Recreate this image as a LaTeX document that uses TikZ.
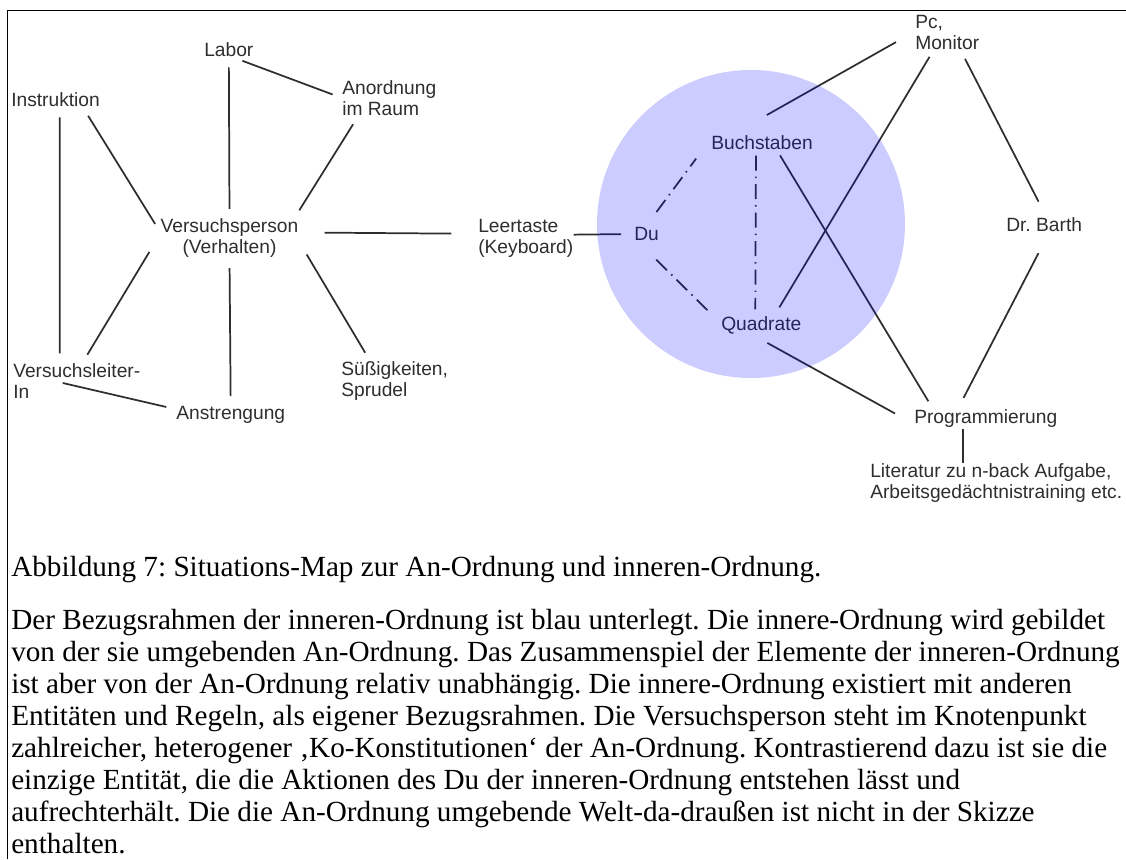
\documentclass[tikz,border=0pt]{standalone}
\usepackage{fontspec}
\setmainfont{Liberation Serif}
\setsansfont{Liberation Sans}
\usepackage{tikz}
\usetikzlibrary{calc}
\frenchspacing
\definecolor{ink}{HTML}{2E2E2E}
\tikzset{
	concept/.style={font=\sffamily\fontsize{14.4}{15.75}\selectfont, text=ink, inner sep=0pt, anchor=west, align=left},
	link/.style={draw=ink, line width=1.3pt, shorten <=7.5pt, shorten >=7.5pt},
	innerlink/.style={link, dash pattern=on 11.25pt off 4.5pt on 1.1pt off 4.5pt},
	bodytext/.style={font=\fontsize{21.9}{24}\selectfont, inner sep=0pt, anchor=base west, align=left}
}

\begin{document}
\begin{tikzpicture}[x=0.75pt, y=-0.75pt]
	\useasboundingbox (0,0) rectangle (1126,859);
	\draw[line width=0.75pt] (7,859) -- (7,11) -- (1126,11);

	\node[concept] (labor) at (204,50) {Labor};
	\node[concept] (anord) at (342,98) {Anordnung\\im Raum};
	\node[concept] (instr) at (11,100) {Instruktion};
	\node[concept, anchor=center, align=center] (vp) at (229.5,238.5) {Versuchsperson\\(Verhalten)};
	\node[concept] (leer) at (478,238) {Leertaste\\(Keyboard)};
	\node[concept] (vl) at (13,381) {Versuchsleiter-\\In};
	\node[concept] (anstr) at (176,415) {Anstrengung};
	\node[concept] (suess) at (341,381) {Süßigkeiten,\\Sprudel};
	\node[concept] (du) at (634,234) {Du};
	\node[concept] (buch) at (711,143) {Buchstaben};
	\node[concept] (quad) at (721,325) {Quadrate};
	\node[concept] (pc) at (915,32.5) {Pc,\\Monitor};
	\node[concept] (barth) at (1006,225) {Dr. Barth};
	\node[concept] (prog) at (914,419) {Programmierung};
	\node[concept] (lit) at (870,483.5) {Literatur zu n-back Aufgabe,\\Arbeitsgedächtnistraining etc.};

	\draw[link] (labor.south) -- (vp.north);
	\draw[link] (labor.-60) -- (anord.west);
	\draw[link] (anord.-150) -- (vp.17);
	\draw[link] (instr.-15) -- (vp.175);
	\draw[link] (instr.-60) -- (vl.134);
	\draw[link, shorten <=16pt] (vp.176) -- (vl.73);
	\draw[link] (vp.south) -- (anstr.north);
	\draw[link, shorten <=11.8pt] (vp.-2) -- (suess.141);
	\draw[link, shorten <=19.5pt, shorten >=20pt] (vp.5) -- (leer.175);
	\draw[link, shorten <=0pt] ([xshift=-10.5pt, yshift=-1.5pt]vl.center) -- (anstr.174);
	\draw[link, shorten <=0pt, shorten >=9.75pt] (leer.4) -- (du.west);

	\draw[innerlink, shorten <=14pt, shorten >=18.7pt] (du.100) -- (buch.175);
	\draw[innerlink, shorten <=20pt, shorten >=12.6pt] (du.-143) -- (quad.178);
	\draw[innerlink, shorten <=4pt, shorten >=5pt] ([xshift=-4.5pt]buch.south) -- ([xshift=-4.5pt]quad.north);

	\draw[link, shorten <=16.4pt, shorten >=31.5pt] (pc.178) -- (buch.167);
	\draw[link, shorten <=6pt] (pc.-128) -- (quad.35);
	\draw[link, shorten >=13.5pt] (pc.-53) -- (barth.70);
	\draw[link, shorten <=4.4pt] (buch.-26) -- (prog.170);
	\draw[link, shorten <=13.8pt, shorten >=16.3pt] (quad.-138) -- (prog.184);
	\draw[link, shorten <=17.6pt, shorten >=10pt] (barth.-55) -- (prog.162);
	\draw[link, shorten <=0.75pt, shorten >=0.75pt] ([xshift=-17.25pt]prog.south) -- ([xshift=-17.25pt]prog.south |- lit.north);

	% Bezugsrahmen der inneren-Ordnung
	\node[circle, fill=blue, fill opacity=0.2, inner sep=0pt, minimum size=231pt] (inner) at (751,224) {};

	\node[bodytext] (cap) at (11,576) {Abbildung 7: Situations-Map zur An-Ordnung und inneren-Ordnung.};
	% base of a multi-line node = last line
	\node[bodytext] (para) at (11,853) {Der Bezugsrahmen der inneren-Ordnung ist blau unterlegt. Die innere-Ordnung wird gebildet\\
		von der sie umgebenden An-Ordnung. Das Zusammenspiel der Elemente der inneren-Ordnung\\
		ist aber von der An-Ordnung relativ unabhängig. Die innere-Ordnung existiert mit anderen\\
		Entitäten und Regeln, als eigener Bezugsrahmen. Die Versuchsperson steht im Knotenpunkt\\
		zahlreicher, heterogener ‚Ko-Konstitutionen‘ der An-Ordnung. Kontrastierend dazu ist sie die\\
		einzige Entität, die die Aktionen des Du der inneren-Ordnung entstehen lässt und\\
		aufrechterhält. Die die An-Ordnung umgebende Welt-da-draußen ist nicht in der Skizze\\
		enthalten.};
\end{tikzpicture}
\end{document}
